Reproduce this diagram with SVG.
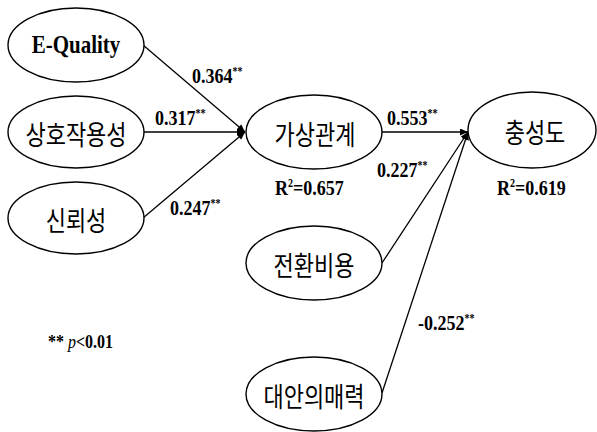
<svg xmlns="http://www.w3.org/2000/svg" width="597" height="432" viewBox="0 0 597 432">
<style>
.node ellipse{fill:#fff;stroke:#000;stroke-width:1.4}
.ko{font-family:"Noto Sans CJK KR","Noto Sans",sans-serif;font-size:22px;fill:#000;text-anchor:middle}
.en{font-family:"Liberation Serif",serif;font-weight:bold;font-size:21px;fill:#000;text-anchor:middle}
.num{font-family:"Liberation Serif",serif;font-weight:bold;font-size:18px;fill:#000}
.sup{font-size:10px}
#edges line{stroke:#000;stroke-width:1.3;marker-end:url(#ah)}
</style>
<defs>
<marker id="ah" markerUnits="userSpaceOnUse" markerWidth="9" markerHeight="8" refX="8" refY="3.5" orient="auto">
<path d="M0,0 L8,3.5 L0,7 z" fill="#000"/>
</marker>
</defs>
<rect width="597" height="432" fill="#fff"/>
<g id="edges">
<line x1="143" y1="45" x2="245" y2="132"/>
<line x1="144" y1="132" x2="245" y2="132"/>
<line x1="143" y1="218" x2="245" y2="132"/>
<line x1="382" y1="132" x2="468" y2="132"/>
<line x1="382" y1="263" x2="468" y2="132"/>
<line x1="382" y1="393" x2="468" y2="132"/>
</g>
<g id="n-equality" class="node">
<ellipse cx="76" cy="45" rx="68" ry="37"/>
<text class="en" transform="translate(76,53) scale(1,1.15)">E-Quality</text>
</g>
<g id="n-interact" class="node">
<ellipse cx="76" cy="132" rx="68" ry="36"/>
<text class="ko" transform="translate(76,145) scale(1,1.22)">상호작용성</text>
</g>
<g id="n-trust" class="node">
<ellipse cx="76" cy="218" rx="68" ry="36"/>
<text class="ko" transform="translate(76,231) scale(1,1.22)">신뢰성</text>
</g>
<g id="n-virtual" class="node">
<ellipse cx="314" cy="132" rx="68" ry="37"/>
<text class="ko" transform="translate(315,145) scale(1,1.22)">가상관계</text>
</g>
<g id="n-loyalty" class="node">
<ellipse cx="532" cy="130" rx="64" ry="38"/>
<text class="ko" transform="translate(535,143) scale(1,1.22)">충성도</text>
</g>
<g id="n-switch" class="node">
<ellipse cx="314" cy="263" rx="68" ry="37"/>
<text class="ko" transform="translate(314,276) scale(1,1.22)">전환비용</text>
</g>
<g id="n-alt" class="node">
<ellipse cx="314" cy="394" rx="68" ry="37"/>
<text class="ko" transform="translate(314,407) scale(1,1.22)">대안의매력</text>
</g>
<g id="labels">
<text class="num" transform="translate(192,83) scale(1,1.18)">0.364<tspan class="sup" dy="-7">**</tspan></text>
<text class="num" transform="translate(155,125) scale(1,1.18)">0.317<tspan class="sup" dy="-7">**</tspan></text>
<text class="num" transform="translate(170,215) scale(1,1.18)">0.247<tspan class="sup" dy="-7">**</tspan></text>
<text class="num" transform="translate(387,125) scale(1,1.18)">0.553<tspan class="sup" dy="-7">**</tspan></text>
<text class="num" transform="translate(377,177) scale(1,1.18)">0.227<tspan class="sup" dy="-7">**</tspan></text>
<text class="num" transform="translate(418,330) scale(1,1.18)">-0.252<tspan class="sup" dy="-7">**</tspan></text>
<text class="num" transform="translate(275,195) scale(1,1.18)">R<tspan class="sup" dy="-7">2</tspan><tspan dy="7">=0.657</tspan></text>
<text class="num" transform="translate(497,195) scale(1,1.18)">R<tspan class="sup" dy="-7">2</tspan><tspan dy="7">=0.619</tspan></text>
<text class="num" style="font-size:16px" transform="translate(48,348) scale(1,1.15)">**<tspan font-style="italic" font-weight="normal" dx="4">p</tspan>&lt;0.01</text>
</g>
</svg>
